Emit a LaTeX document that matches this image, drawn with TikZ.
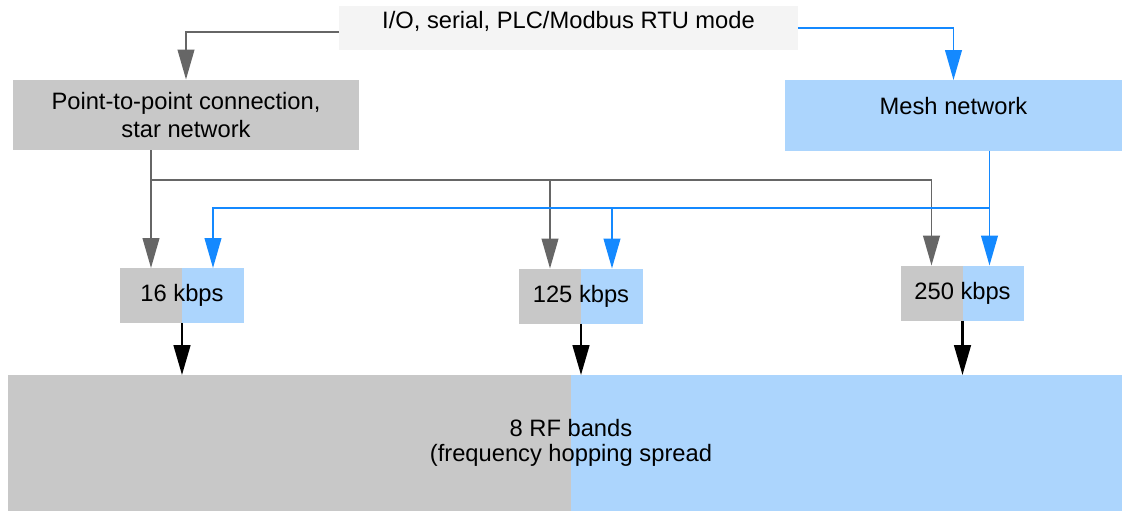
\documentclass[tikz,border=0pt]{standalone}
\usepackage{fontspec}
\setmainfont{Liberation Sans}
\usetikzlibrary{positioning,arrows.meta}
\definecolor{boxgray}{RGB}{200,200,200}
\definecolor{boxblue}{RGB}{172,213,253}
\definecolor{modegray}{RGB}{244,244,244}
\definecolor{linegray}{RGB}{102,102,102}
\definecolor{lineblue}{RGB}{20,137,255}

\begin{document}
\begin{tikzpicture}[x=0.02cm,y=-0.02cm,node distance=0pt]
  \tikzstyle{box}=[inner sep=0pt,outer sep=0pt,align=center,font=\fontsize{13.5}{14.5}\selectfont]
  \tikzstyle{ratebox}=[box,minimum width=1.24cm,minimum height=1.1cm]
  \tikzstyle{garrow}=[draw=linegray,line width=1pt,-{Triangle[length=17pt,width=9.5pt]}]
  \tikzstyle{barrow}=[draw=lineblue,line width=1pt,-{Triangle[length=17pt,width=9.5pt]}]
  \tikzstyle{karrow}=[draw=black,line width=1.3pt,-{Triangle[length=17pt,width=9.5pt]}]
  \useasboundingbox (0,0) rectangle (1122,511);

  \node[box,fill=modegray,minimum width=9.18cm,text height=0.44cm,text depth=0.44cm] (mode) at (568.5,28) {I/O, serial, PLC/Modbus RTU mode};
  \node[box,fill=boxgray,minimum width=6.92cm,minimum height=1.42cm,font=\fontsize{13.5}{16}\selectfont] (star) at (186,115) {Point-to-point connection,\\star network};
  \node[box,fill=boxblue,minimum width=6.74cm,text height=0.68cm,text depth=0.74cm] (mesh) at (953.5,115.5) {Mesh network};

  \node[ratebox,fill=boxgray] (r16) at (151,295.5) {};
  \node[ratebox,fill=boxblue,right=of r16] (r16b) {};
  \node[box] at (r16.east) {16 kbps};
  \node[ratebox,fill=boxgray] (r125) at (550,296) {};
  \node[ratebox,fill=boxblue,right=of r125] (r125b) {};
  \node[box] at (r125.east) {125 kbps};
  \node[ratebox,fill=boxgray] (r250) at (931.5,293) {};
  \node[ratebox,fill=boxblue,right=of r250] (r250b) {};
  \node[box] at (r250.east) {250 kbps};

  \node[box,fill=boxgray,minimum width=11.26cm,minimum height=2.72cm] (bandg) at (289.5,443) {};
  \node[box,fill=boxblue,minimum width=11.02cm,minimum height=2.72cm,right=of bandg] (bandb) {};
  \node[box] at (bandg.east) {8 RF bands\\(frequency hopping spread};

  \draw[garrow] ([yshift=-0.08cm]mode.west) -| (star);
  \draw[barrow] (mode.east) -| (mesh);

  \coordinate (gsplit) at (r16.north |- 0,180);
  \coordinate (bdrop) at ([xshift=-0.08cm]r250b.north);
  \coordinate (bsplit) at (bdrop |- 0,208);
  \draw[garrow] (star.south -| r16.north) -- (r16.north);
  \draw[garrow] (gsplit) -| (r125.north);
  \draw[garrow] (gsplit) -| (r250.north);
  \draw[barrow] (mesh.south -| bdrop) -- (bdrop);
  \draw[barrow] (bsplit) -| (r16b.north);
  \draw[barrow] (bsplit) -| (r125b.north);

  \draw[karrow] (r16.south east) -- (r16.south east |- bandg.north);
  \draw[karrow] (r125.south east) -- (r125.south east |- bandg.north);
  \draw[karrow] (r250.south east) -- (r250.south east |- bandg.north);
\end{tikzpicture}
\end{document}
